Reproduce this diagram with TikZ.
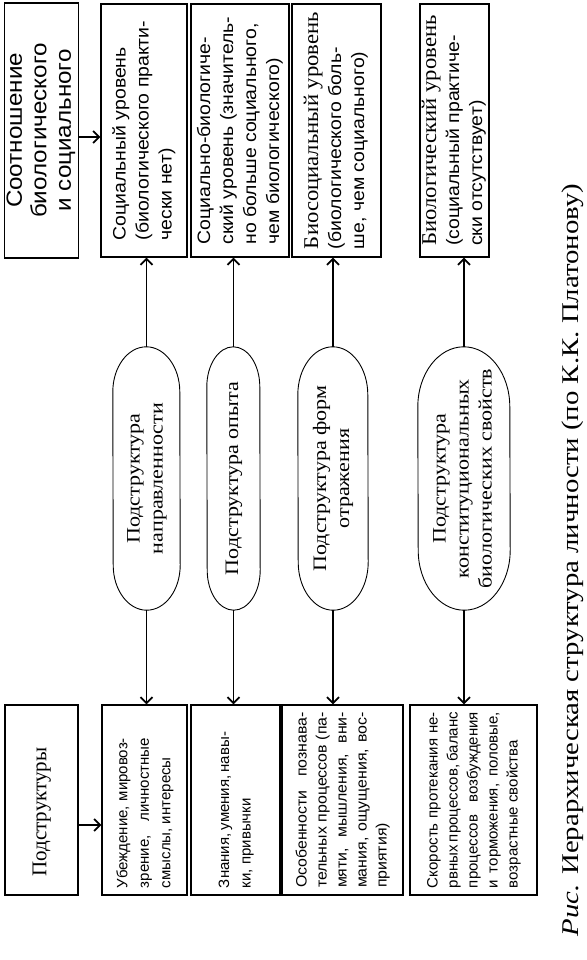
\documentclass[tikz,border=0pt]{standalone}
\usepackage{fontspec}
\setmainfont{Liberation Serif}
\newfontfamily\bxf{Liberation Sans}
\usetikzlibrary{arrows.meta,calc}
\tikzset{
  rbox/.style={draw, line width=1.3pt, inner sep=0pt, anchor=center},
  ovalnode/.style={draw=none, inner sep=0pt, anchor=center},
  conn/.style={line width=1.8pt, -{Straight Barb[length=6pt,width=12pt,line width=1.8pt]}},
  ovalline/.style={line width=0.9pt},
  topfont/.style={font=\bxf\fontsize{18}{23}\selectfont},
  botfont/.style={font=\bxf\fontsize{15}{21.5}\selectfont},
  ovfont/.style={font=\fontsize{19}{23}\selectfont},
}
% rotated, horizontally stretched block of lines
\newcommand\rtab[3][l]{\rotatebox{90}{\scalebox{#2}[1]{\begin{tabular}{@{}#1@{}}#3\end{tabular}}}}
\newcommand\jl[2]{\makebox[#1][s]{#2}}
\newcommand\stadium[3]{% name, half width, cap height
  \draw[ovalline] ($(#1.north west)+(0,-#3)$) arc[start angle=180,end angle=0,x radius=#2,y radius=#3]
     -- ($(#1.south east)+(0,#3)$) arc[start angle=0,end angle=-180,x radius=#2,y radius=#3] -- cycle;}
\begin{document}
\begin{tikzpicture}[x=1pt,y=1pt]
\useasboundingbox (0,0) rectangle (586,-960);
% ---------- top row
\node[rbox, minimum width=73pt, minimum height=255pt, font=\bxf\fontsize{22}{24.5}\selectfont] (a) at (41.5,-130.5)
  {\rtab[c]{1.1}{Соотношение\\биологического\\и социального}};
\node[rbox, topfont, minimum width=86pt, minimum height=253pt] (t1) at (144,-130.5)
  {\rtab{1.08}{Социальный уровень\\(биологического практи-\\чески нет)}};
\node[rbox, topfont, minimum width=98pt, minimum height=253pt] (t2) at (240,-130.5)
  {\rtab{1.08}{Социально-биологиче-\\ский уровень (значитель-\\но больше социального,\\чем биологического)}};
\node[rbox, topfont, minimum width=89pt, minimum height=253pt] (t3) at (336.5,-130.5)
  {\rtab{1.08}{{\rmfamily\fontsize{21}{23.5}\selectfont Биосоциальный уровень}\\(биологического боль-\\ше, чем социального)}};
\node[rbox, topfont, minimum width=65pt, minimum height=253pt] (t4) at (454.5,-130.5)
  {\rtab{1.08}{{\rmfamily\fontsize{21}{22.5}\selectfont Биологический уровень}\\(социальный практиче-\\ски отсутствует)}};
% ---------- ovals
\node[ovalnode, ovfont, minimum width=67pt, minimum height=263pt] (o1) at (146.5,-478.5)
  {\rtab[c]{1.16}{Подструктура\\направленности}};
\node[ovalnode, ovfont, minimum width=53pt, minimum height=263pt] (o2) at (233.5,-478.5)
  {\rtab[c]{1.16}{Подструктура опыта}};
\node[ovalnode, ovfont, minimum width=70pt, minimum height=263pt] (o3) at (333,-478.5)
  {\rtab[c]{1.16}{Подструктура форм\\отражения}};
\node[ovalnode, ovfont, minimum width=92pt, minimum height=263pt] (o4) at (464,-478.5)
  {\rtab[c]{1.16}{Подструктура\\конституциональных\\биологических свойств}};
\stadium{o1}{33.5}{45}
\stadium{o2}{26.5}{40}
\stadium{o3}{35}{48}
\stadium{o4}{46}{60}
% ---------- bottom row
\node[rbox, minimum width=73pt, minimum height=190pt, font=\fontsize{21}{24}\selectfont] (p) at (41.5,-800)
  {\rtab[c]{1}{Подструктуры\hspace*{24pt}}};
\node[rbox, botfont, minimum width=85pt, minimum height=190pt] (b1) at (144.5,-800)
  {\rtab{1}{\makebox[176pt][l]{\jl{150pt}{Убеждение, мировоз-}}\\\jl{150pt}{зрение, личностные}\\смыслы, интересы}};
\node[rbox, botfont, minimum width=89pt, minimum height=190pt] (b2) at (235.5,-800)
  {\rtab{1}{\makebox[176pt][l]{\jl{150pt}{Знания, умения, навы-}}\\ки, привычки}};
\node[rbox, botfont, minimum width=121pt, minimum height=190pt, font=\bxf\fontsize{15}{20}\selectfont] (b3) at (342.5,-800)
  {\rtab{1.06}{\jl{166pt}{Особенности познава-}\\\jl{166pt}{тельных процессов (па-}\\\jl{166pt}{мяти, мышления, вни-}\\\jl{166pt}{мания, ощущения, вос-}\\приятия)}};
\node[rbox, botfont, minimum width=127pt, minimum height=190pt, font=\bxf\fontsize{15}{20}\selectfont] (b4) at (473.5,-800)
  {\rtab{1}{\jl{176pt}{Скорость протекания не-}\\\jl{176pt}{рвных процессов, баланс}\\\jl{176pt}{процессов возбуждения}\\\jl{176pt}{и торможения, половые,}\\возрастные свойства}};
% ---------- caption
\node[inner sep=0pt, font=\fontsize{24}{28}\selectfont] (cap) at (573,-560)
  {\rtab[c]{1.2}{\textit{Рис.} Иерархическая структура личности (по К.К. Платонову)}};
% ---------- connectors
\draw[conn] ([yshift=-6.5pt]a.east) -- ([yshift=-6.5pt]t1.west);
\draw[conn] ([yshift=-25pt]p.east) -- ([yshift=-25pt]b1.west);
\foreach \i in {1,2,3,4}{
  \draw[conn] (o\i.north) -- (o\i.north |- t\i.south);
  \draw[conn] (o\i.south) -- (o\i.south |- b\i.north);
}
\end{tikzpicture}
\end{document}
